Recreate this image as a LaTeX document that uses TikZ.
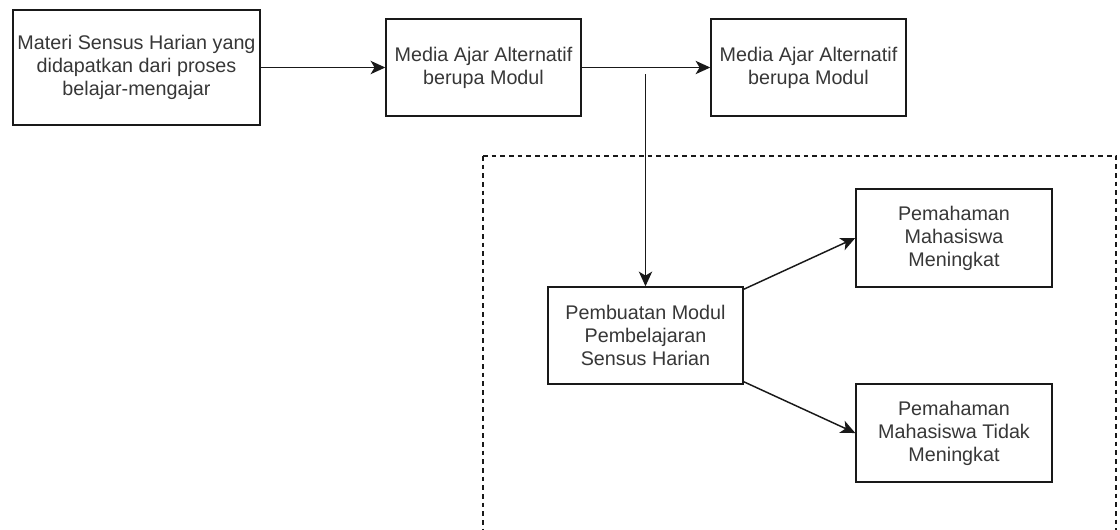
\documentclass[tikz,border=0pt]{standalone}
\usepackage{fontspec}
\setmainfont{Liberation Sans}
\usetikzlibrary{arrows.meta}
\definecolor{txt}{RGB}{55,55,55}
\definecolor{ln}{RGB}{25,25,25}
\begin{document}
\begin{tikzpicture}[x=0.75pt,y=-0.75pt,
  box/.style={draw=ln,line width=1.1pt,fill=white,rectangle,align=center,
    text=txt,font=\fontsize{14.8pt}{17.2pt}\selectfont,inner sep=0pt},
  conn/.style={draw=ln,line width=1.1pt,-{Stealth[length=11pt,width=10pt,inset=3pt]}},
  grp/.style={draw=ln,line width=0.9pt,dash pattern=on 3.5pt off 3pt}]
\useasboundingbox (0,0) rectangle (1120,529);
\fill[white] (0,0) rectangle (1120,529);
\begin{scope}
\clip (0,0) rectangle (1120,529);
\draw[grp] (483,156) -- (1116,156) -- (1116,545) (483,156) -- (483,545);
\end{scope}
\node[box,minimum width=185.25pt,minimum height=86.25pt] (b1) at (136.5,67.5)
  {Materi Sensus Harian yang\\didapatkan dari proses\\belajar-mengajar};
\node[box,minimum width=146.25pt,minimum height=72.75pt] (b2) at (483.5,67.5)
  {Media Ajar Alternatif\\berupa Modul};
\node[box,minimum width=146.25pt,minimum height=72.75pt] (b3) at (808.5,67.5)
  {Media Ajar Alternatif\\berupa Modul};
\node[box,minimum width=146.25pt,minimum height=72.75pt] (b4) at (645.5,335.5)
  {Pembuatan Modul\\Pembelajaran\\Sensus Harian};
\node[box,minimum width=147pt,minimum height=73.5pt] (b5) at (954,238)
  {Pemahaman\\Mahasiswa\\Meningkat};
\node[box,minimum width=147pt,minimum height=73.5pt] (b6) at (954,433)
  {Pemahaman\\Mahasiswa Tidak\\Meningkat};
\coordinate (vs) at (645.5,74);
\draw[conn] (b1) -- (b2);
\draw[conn] (b2) -- (b3);
\draw[conn] (vs) -- (b4.north);
\draw[conn] (b4.north east) ++(0,3) -- (b5.west);
\draw[conn] (b4.south east) ++(0,-3) -- (b6.west);
\end{tikzpicture}
\end{document}
